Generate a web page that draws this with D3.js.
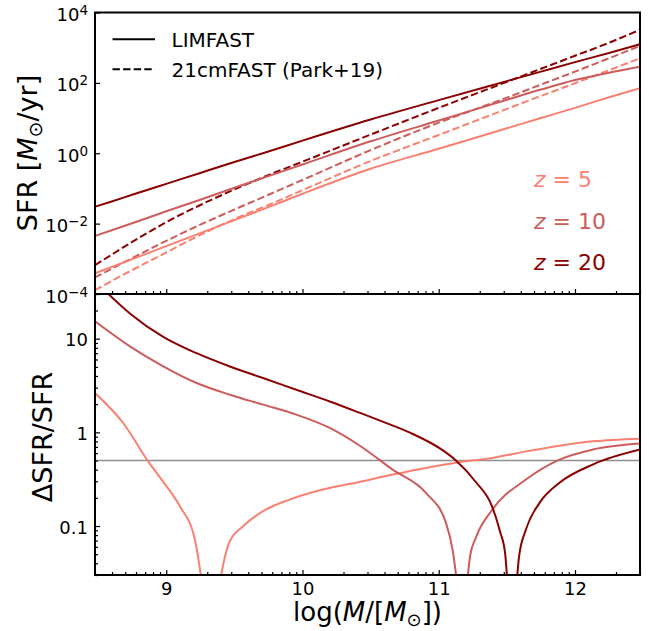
<!DOCTYPE html>
<html><head><meta charset="utf-8">
<script src="https://cdn.jsdelivr.net/npm/d3@7"></script>
<style>
body{margin:0;background:#fff}
svg{display:block}
text{font-family:"DejaVu Sans",sans-serif;fill:#000}
</style>
</head><body>
<svg id="chart" width="649" height="631"></svg>
<script>
// ---------- data (log10 values) ----------
const sfrLogM = [8.477, 8.6, 8.75, 9.0, 9.25, 9.5, 9.75, 10.0, 10.5, 11.0, 11.5, 11.75, 12.0, 12.25, 12.477];
const limfastZ5  = [-3.41, -3.23, -3.01, -2.64, -2.27, -1.90, -1.53, -1.15, -0.44, 0.13, 0.71, 1.00, 1.29, 1.59, 1.85];
const limfastZ10 = [-2.35, -2.19, -1.99, -1.65, -1.32, -0.98, -0.65, -0.32, 0.34, 0.93, 1.52, 1.81, 2.08, 2.29, 2.46];
const limfastZ20 = [-1.52, -1.37, -1.18, -0.87, -0.56, -0.25, 0.05, 0.36, 0.96, 1.51, 2.05, 2.32, 2.59, 2.85, 3.10];
const park19Z5   = [-3.89, -3.63, -3.32, -2.82, -2.32, -1.87, -1.47, -1.05, -0.22, 0.52, 1.26, 1.63, 1.99, 2.36, 2.70];
const park19Z10  = [-3.53, -3.28, -2.98, -2.49, -2.03, -1.60, -1.18, -0.76, 0.09, 0.87, 1.58, 1.95, 2.32, 2.70, 3.05];
const park19Z20  = [-3.18, -2.88, -2.52, -1.96, -1.47, -1.03, -0.62, -0.24, 0.53, 1.29, 2.03, 2.40, 2.77, 3.14, 3.51];

const ratioZ5LogM = [8.477, 8.684, 8.867, 8.966, 9.10, 9.21, 9.322, 9.461, 9.564, 9.71, 9.906, 10.15, 10.418, 10.662, 10.906, 11.15, 11.394, 11.64, 11.886, 12.13, 12.477];
const ratioZ5     = [0.42, 0.10, -0.309, -0.505, -0.789, -1.144, -2.3, -1.18, -1.002, -0.842, -0.718, -0.611, -0.529, -0.451, -0.38, -0.32, -0.273, -0.203, -0.142, -0.096, -0.067];
const ratioZ10LogM = [8.477, 8.733, 8.978, 9.223, 9.467, 9.71, 9.955, 10.2, 10.418, 10.662, 10.906, 11.053, 11.101, 11.178, 11.23, 11.272, 11.394, 11.64, 11.886, 12.13, 12.477];
const ratioZ10     = [1.185, 0.918, 0.705, 0.527, 0.402, 0.296, 0.189, 0.047, -0.14, -0.398, -0.646, -0.966, -1.25, -2.2, -1.32, -1.126, -0.824, -0.504, -0.291, -0.184, -0.12];
const ratioZ20LogM = [8.477, 8.574, 8.733, 8.978, 9.223, 9.467, 9.71, 9.955, 10.2, 10.418, 10.56, 10.784, 11.028, 11.126, 11.272, 11.394, 11.45, 11.487, 11.535, 11.59, 11.64, 11.74, 11.886, 12.13, 12.477];
const ratioZ20     = [1.62, 1.479, 1.27, 1.02, 0.845, 0.703, 0.58, 0.455, 0.33, 0.21, 0.13, 0.0, -0.19, -0.30, -0.53, -0.80, -1.06, -1.29, -2.5, -1.32, -1.037, -0.753, -0.539, -0.344, -0.184];

const threshold = 0.5;
const redshiftLabels = ["5", "10", "20"];
const colors = ["#FA8072", "#CD5C5C", "#8B0000"];
const xMajorTicks = [1e9, 1e10, 1e11, 1e12];
const xTickLabels = ["9", "10", "11", "12"];
const sfrTicks = [1e-4, 1e-2, 1, 1e2, 1e4];
const sfrTickExps = ["\u22124", "\u22122", "0", "2", "4"];
const ratioTicks = [0.1, 1, 10];
const ratioTickLabels = ["0.1", "1", "10"];
const legendLabels = ["LIMFAST", "21cmFAST (Park+19)"];

// ---------- layout ----------
const L = 95, R = 640, T = 12.5, M = 294, B = 575;
const svg = d3.select("#chart");

const x = d3.scaleLog().domain([3e8, 3e12]).range([L, R]);
const yTop = d3.scaleLog().domain([1e-4, 1e4]).range([M, T]);
const yBot = d3.scaleLog().domain([0.03, 30]).range([B, M]);

const defs = svg.append("defs");
defs.append("clipPath").attr("id", "clipTop").append("rect")
  .attr("x", L).attr("y", T).attr("width", R - L).attr("height", M - T);
defs.append("clipPath").attr("id", "clipBot").append("rect")
  .attr("x", L).attr("y", M).attr("width", R - L).attr("height", B - M);

const pts = (lm, lv) => lm.map((m, i) => [Math.pow(10, m), Math.pow(10, lv[i])]);

// ---------- top panel ----------
const lineTop = d3.line().x(d => x(d[0])).y(d => yTop(d[1])).curve(d3.curveMonotoneX);
const gTop = svg.append("g").attr("clip-path", "url(#clipTop)");
const limSeries = [limfastZ5, limfastZ10, limfastZ20];
const parkSeries = [park19Z5, park19Z10, park19Z20];
parkSeries.forEach((s, i) => {
  gTop.append("path").attr("d", lineTop(pts(sfrLogM, s)))
    .attr("fill", "none").attr("stroke", colors[i]).attr("stroke-width", 2)
    .attr("stroke-dasharray", "7.4,3.2");
});
limSeries.forEach((s, i) => {
  gTop.append("path").attr("d", lineTop(pts(sfrLogM, s)))
    .attr("fill", "none").attr("stroke", colors[i]).attr("stroke-width", 2);
});

// ---------- bottom panel ----------
const lineBot = d3.line().x(d => x(d[0])).y(d => yBot(d[1])).curve(d3.curveMonotoneX);
const gBot = svg.append("g").attr("clip-path", "url(#clipBot)");
gBot.append("line").attr("x1", L).attr("x2", R)
  .attr("y1", yBot(threshold)).attr("y2", yBot(threshold))
  .attr("stroke", "#8f8f8f").attr("stroke-width", 1.6);
const ratioSeries = [[ratioZ5LogM, ratioZ5], [ratioZ10LogM, ratioZ10], [ratioZ20LogM, ratioZ20]];
ratioSeries.forEach((s, i) => {
  // split each curve at its dip (sign change of the difference) into two branches
  const k = d3.minIndex(s[1]);
  const branches = [pts(s[0].slice(0, k + 1), s[1].slice(0, k + 1)), pts(s[0].slice(k), s[1].slice(k))];
  branches.forEach(b => {
    gBot.append("path").attr("d", lineBot(b))
      .attr("fill", "none").attr("stroke", colors[i]).attr("stroke-width", 2);
  });
});

// ---------- axes ----------
const isPow10 = v => Math.abs(Math.log10(v) - Math.round(Math.log10(v))) < 1e-9;
const xMinor = x.ticks().filter(v => !isPow10(v));
const yBotMinor = yBot.ticks().filter(v => !isPow10(v));

function styleAxis(g) {
  g.select(".domain").remove();
  g.selectAll(".tick line").attr("stroke", "#000").attr("stroke-width", 1.2);
  g.attr("font-family", null).attr("font-size", null);
}

// top panel x ticks (no labels)
svg.append("g").attr("transform", `translate(0,${M})`)
  .call(d3.axisBottom(x).tickValues(xMajorTicks).tickSizeInner(-5).tickSizeOuter(0).tickFormat(""))
  .call(styleAxis);
svg.append("g").attr("transform", `translate(0,${M})`)
  .call(d3.axisBottom(x).tickValues(xMinor).tickSizeInner(-3).tickSizeOuter(0).tickFormat(""))
  .call(styleAxis);

// bottom panel x ticks
const gxb = svg.append("g").attr("transform", `translate(0,${B})`)
  .call(d3.axisBottom(x).tickValues(xMajorTicks).tickSizeInner(-5).tickSizeOuter(0).tickPadding(7)
    .tickFormat((d, i) => xTickLabels[i]))
  .call(styleAxis);
gxb.selectAll(".tick text").attr("font-size", 18).attr("fill", "#000");
svg.append("g").attr("transform", `translate(0,${B})`)
  .call(d3.axisBottom(x).tickValues(xMinor).tickSizeInner(-3).tickSizeOuter(0).tickFormat(""))
  .call(styleAxis);

// top panel y ticks with superscripts
const gyt = svg.append("g").attr("transform", `translate(${L},0)`)
  .call(d3.axisLeft(yTop).tickValues(sfrTicks).tickSizeInner(-5).tickSizeOuter(0).tickPadding(7)
    .tickFormat(() => ""))
  .call(styleAxis);
gyt.selectAll(".tick text").each(function(d, i) {
  const t = d3.select(this).attr("font-size", 18).attr("dy", "0.45em");
  t.append("tspan").text("10");
  t.append("tspan").attr("font-size", 13.5).attr("dy", -6).text(sfrTickExps[i]);
});

// bottom panel y ticks
const gyb = svg.append("g").attr("transform", `translate(${L},0)`)
  .call(d3.axisLeft(yBot).tickValues(ratioTicks).tickSizeInner(-5).tickSizeOuter(0).tickPadding(7)
    .tickFormat((d, i) => ratioTickLabels[i]))
  .call(styleAxis);
gyb.selectAll(".tick text").attr("font-size", 18).attr("dy", "0.4em");
svg.append("g").attr("transform", `translate(${L},0)`)
  .call(d3.axisLeft(yBot).tickValues(yBotMinor).tickSizeInner(-3).tickSizeOuter(0).tickFormat(""))
  .call(styleAxis);

// spines
[[T, M], [M, B]].forEach(([y0, y1]) => {
  svg.append("rect").attr("x", L).attr("y", y0).attr("width", R - L).attr("height", y1 - y0)
    .attr("fill", "none").attr("stroke", "#000").attr("stroke-width", 2);
});

// ---------- labels ----------
const yl1 = svg.append("text").attr("transform", "translate(37,153) rotate(-90)")
  .attr("text-anchor", "middle").attr("font-size", 27);
yl1.append("tspan").text("SFR [");
yl1.append("tspan").attr("font-style", "italic").text("M");
yl1.append("tspan").attr("font-size", 19).attr("dy", 5).text("\u2299");
yl1.append("tspan").attr("dy", -5).text("/yr]");

svg.append("text").attr("transform", "translate(51.5,437) rotate(-90)")
  .attr("text-anchor", "middle").attr("font-size", 27).text("\u0394SFR/SFR");

const xl = svg.append("text").attr("x", (L + R) / 2).attr("y", 621)
  .attr("text-anchor", "middle").attr("font-size", 26);
xl.append("tspan").text("log(");
xl.append("tspan").attr("font-style", "italic").text("M");
xl.append("tspan").text("/[");
xl.append("tspan").attr("font-style", "italic").text("M");
xl.append("tspan").attr("font-size", 18).attr("dy", 5).text("\u2299");
xl.append("tspan").attr("dy", -5).text("])");

// legend
const legY = [39.3, 69.3];
legendLabels.forEach((lab, i) => {
  svg.append("line").attr("x1", 112.5).attr("x2", 155).attr("y1", legY[i]).attr("y2", legY[i])
    .attr("stroke", "#000").attr("stroke-width", 2)
    .attr("stroke-dasharray", i === 1 ? "7.4,3.2" : null);
  svg.append("text").attr("x", 171.5).attr("y", legY[i] + 7.4).attr("font-size", 20).text(lab);
});

// redshift labels
const zY = [187.3, 229, 270.3];
redshiftLabels.forEach((lab, i) => {
  const t = svg.append("text").attr("x", 534).attr("y", zY[i]).attr("font-size", 22).attr("fill", colors[i]);
  t.append("tspan").attr("font-style", "italic").attr("fill", colors[i]).text("z");
  t.append("tspan").attr("fill", colors[i]).text(" = " + lab);
});
</script>
</body></html>
